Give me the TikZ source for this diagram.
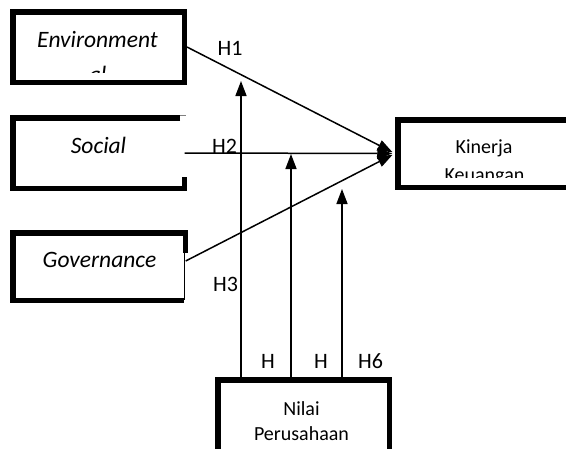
\documentclass[tikz,border=0pt]{standalone}
\usepackage{fontspec}
\setmainfont{Carlito}
\usetikzlibrary{arrows.meta}
\begin{document}
\begin{tikzpicture}[x=1pt,y=-1pt,
  thickbox/.style={draw, line width=5.5pt, inner sep=0pt, line join=miter},
  plainbox/.style={inner sep=0pt},
  thickline/.style={line width=5.5pt, line join=miter},
  conn/.style={line width=1.5pt, -{Triangle[length=15pt,width=11pt]}},
  boxtxt/.style={font=\fontsize{20}{24}\selectfont, anchor=base, inner sep=0pt},
  itxt/.style={font=\fontsize{23.5}{28}\selectfont\itshape, anchor=base, inner sep=0pt},
  lbl/.style={font=\fontsize{22}{26}\selectfont, anchor=base, inner sep=0pt}]
\clip (0,0) rectangle (566,448);
\fill[white] (0,0) rectangle (566,448);

% boxes
\node[thickbox, minimum width=171.5pt, minimum height=70.5pt] (env) at (98.5,47) {};
\node[plainbox, minimum width=171.75pt, minimum height=70.5pt] (soc) at (98.6,153) {};
\node[plainbox, minimum width=172.75pt, minimum height=67.5pt] (gov) at (99.1,266.5) {};
\node[thickbox, minimum width=171.5pt, minimum height=67.5pt] (kin) at (483.5,153.5) {};
\node[thickbox, minimum width=171.5pt, minimum height=90pt] (nil) at (303.5,424.75) {};

% partial borders of Social and Governance
\draw[thickline] (180,117.75) -- (12.75,117.75) -- (12.75,188.25) -- (184.5,188.25) -- (184.5,177);
\draw[line width=0.8pt, gray] (180,115.4) -- (186,115.4);
\draw[thickline] (185.5,253) -- (185.5,232.75) -- (12.75,232.75) -- (12.75,300.25) -- (184,300.25);
\draw[line width=1pt] (184.5,253) -- (184.5,300);

% texts
\begin{scope}
  \clip (15.5,14.5) rectangle (181.5,72.5);
  \node[itxt] (envt1) at (97.5,47.5) {Environment};
  \node[itxt] (envt2) at (97.5,82) {al};
\end{scope}
\node[itxt] (soct) at (98.5,153) {Social};
\node[itxt] (govt) at (99.5,267.5) {Governance};
\begin{scope}
  \clip (400.5,122.5) rectangle (566,177.5);
  \node[boxtxt] (kint1) at (484,153) {Kinerja};
  \node[boxtxt] (kint2) at (484.5,181.5) {Keuangan};
\end{scope}
\node[boxtxt] (nilt1) at (301.5,415) {Nilai};
\node[boxtxt] (nilt2) at (301.5,440) {Perusahaan};

% connectors to Kinerja
\draw[conn, shorten >=2.75pt] (env.east) -- (kin.west);
\draw[conn, shorten >=2.75pt] (soc.east) -- (kin.west);
\draw[conn, shorten >=2.75pt] ([yshift=5.5pt]gov.east) -- (kin.west);

% moderating arrows
\coordinate (m1) at (241,81);
\coordinate (m2) at (291,154);
\coordinate (m3) at (342,189);
\draw[conn] (nil.north -| m1) -- (m1);
\draw[conn] (nil.north -| m2) -- (m2);
\draw[conn] (nil.north -| m3) -- (m3);

% labels
\node[lbl] (h1) at (230,55) {H1};
\node[lbl] (h2) at (224.5,153) {H2};
\node[lbl] (h3) at (225.5,291) {H3};
\node[lbl] (h4) at (268,368) {H};
\node[lbl] (h5) at (321,368) {H};
\node[lbl] (h6) at (370.5,368) {H6};
\end{tikzpicture}
\end{document}
